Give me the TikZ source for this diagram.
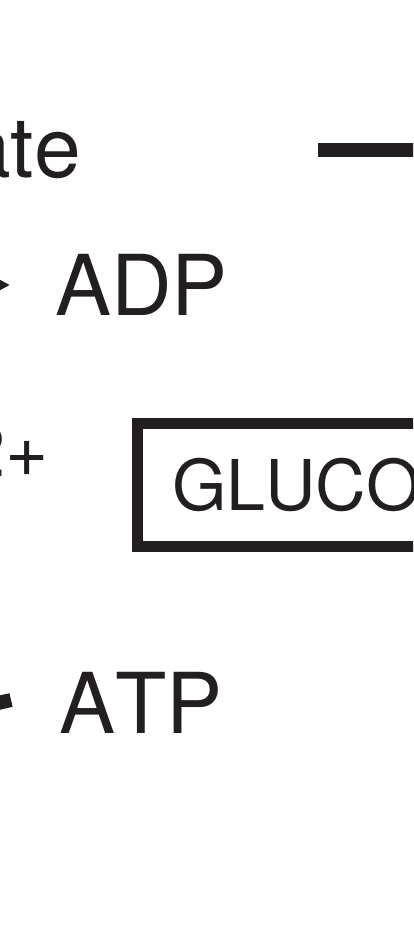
\documentclass[tikz,border=0pt]{standalone}
\usepackage{fontspec}
\setmainfont{TeX Gyre Heros}[Kerning=Off]
\usetikzlibrary{arrows.meta}
\definecolor{ink}{HTML}{231F20}
\begin{document}
\begin{tikzpicture}[x=1pt,y=-1pt,
  every node/.style={inner sep=0pt, outer sep=0pt, text=ink},
  metab/.style={font=\fontsize{84}{90}\selectfont},
  ion/.style={font=\fontsize{74}{80}\selectfont},
  enzyme/.style={font=\fontsize{70}{76}\selectfont},
  enzbox/.style={draw=ink, line width=11pt},
  bar/.style={draw=ink, line width=14pt},
  flow/.style={draw=ink, line width=14pt},
  flowtip/.style={draw=ink, line width=6pt, -{Triangle[length=30pt,width=30pt]}}]
  \useasboundingbox (0,0) rectangle (413,931);
  \clip (0,0) rectangle (413,931);
  \fill[white] (0,0) rectangle (413,931);

  % metabolite labels
  \node[metab, anchor=base east] (ate) at (81,177) {ate};
  \node[metab, anchor=base west] (adp) at (55,315) {ADP};
  \node[metab, anchor=base west] (atp) at (59,733) {ATP};
  \node[ion, anchor=base east] (mg) at (49,476) {2+};

  % enzyme box
  \coordinate (boxNW) at (137.5,423.5);
  \coordinate (boxSE) at (520,546.5);
  \draw[enzbox] (boxNW) rectangle (boxSE);
  \node[enzyme, anchor=base west] (gluc) at (172,510) {GLUCO};

  % reaction bar
  \coordinate (barL) at (318,150);
  \coordinate (barR) at (440,150);
  \draw[bar] (barL) -- (barR);

  % ATP -> ADP side arrow ends
  \coordinate (atpfrom) at (-40,712);
  \coordinate (atpend) at (11,700);
  \draw[flow] (atpfrom) -- (atpend);
  \coordinate (adpfrom) at (-60,285);
  \coordinate (adptip) at (10,285);
  \draw[flowtip] (adpfrom) -- (adptip);
\end{tikzpicture}
\end{document}
